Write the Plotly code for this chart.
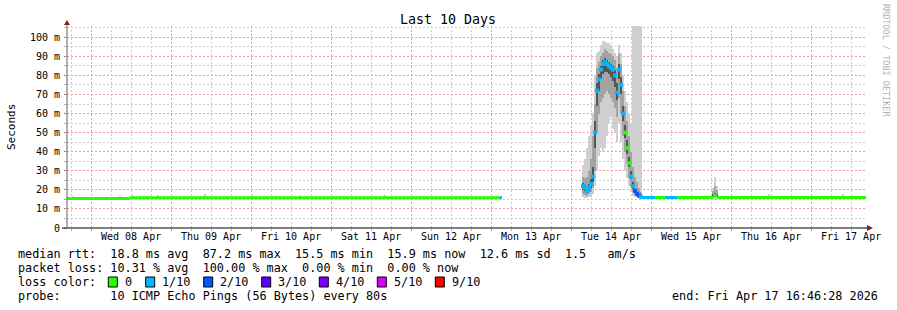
import plotly.graph_objects as go

FONT = "DejaVu Sans Mono"
T_START = "2026-04-07 16:46:28"
T_END = "2026-04-17 16:46:28"

# ---------------- data ----------------
# median line segments (time span, median in ms, loss out of 10)
seg_start = ["2026-04-07 16:46:28", "2026-04-08 11:40", "2026-04-09 08:40", "2026-04-13 02:40",
             "2026-04-14 21:34", "2026-04-15 01:10", "2026-04-15 04:10", "2026-04-15 07:46",
             "2026-04-15 18:34", "2026-04-15 19:46"]
seg_end = ["2026-04-08 11:40", "2026-04-09 08:40", "2026-04-13 02:40", "2026-04-13 03:16",
           "2026-04-15 01:10", "2026-04-15 04:10", "2026-04-15 07:46", "2026-04-15 18:34",
           "2026-04-15 19:46", "2026-04-17 16:28"]
seg_value = [15.5, 15.8, 15.9, 15.9, 16.0, 16.0, 16.0, 16.0, 17.3, 16.0]
seg_loss = [0, 0, 0, 1, 1, 0, 1, 0, 0, 0]

# smoke columns (36 min steps) during the Tue 14 Apr episode + small bump on Wed 15
smoke_time = ["2026-04-14 03:34", "2026-04-14 04:10", "2026-04-14 04:46", "2026-04-14 05:22",
              "2026-04-14 05:58", "2026-04-14 06:34", "2026-04-14 07:10", "2026-04-14 07:46",
              "2026-04-14 08:22", "2026-04-14 08:58", "2026-04-14 09:34", "2026-04-14 10:10",
              "2026-04-14 10:46", "2026-04-14 11:22", "2026-04-14 11:58", "2026-04-14 12:34",
              "2026-04-14 13:10", "2026-04-14 13:46", "2026-04-14 14:22", "2026-04-14 14:58",
              "2026-04-14 15:34", "2026-04-14 16:10", "2026-04-14 16:46", "2026-04-14 17:22",
              "2026-04-14 17:58", "2026-04-14 18:34", "2026-04-14 19:10", "2026-04-14 19:46",
              "2026-04-14 20:22", "2026-04-14 20:58",
              "2026-04-15 18:34", "2026-04-15 19:10", "2026-04-15 19:46"]
smoke_median = [22, 21, 19.5, 21, 23, 27, 50, 72, 78, 83, 86, 87, 86, 85, 84, 83, 80, 71, 83, 75,
                60, 50, 42, 34, 27, 22, 19.5, 18, 17, 16.3,
                17.0, 17.5, 17.3]
smoke_min = [16, 15.5, 15.5, 16, 16.5, 18, 22, 30, 38, 42, 40, 42, 48, 55, 58, 52, 50, 45, 55, 45,
             36, 30, 26, 22, 19, 17, 16.5, 16, 15.8, 15.7,
             15.8, 15.8, 15.8]
smoke_lo = [18, 17.5, 17, 18, 19, 21, 30, 50, 60, 66, 68, 70, 72, 70, 68, 66, 63, 58, 68, 60,
            48, 40, 34, 27, 22, 19, 17.5, 16.5, 16.2, 15.9,
            16.2, 16.4, 16.2]
smoke_lo2 = [20, 19.5, 18.5, 19.5, 21, 24, 42, 64, 72, 78, 81, 82, 82, 81, 79, 77, 74, 67, 78, 70,
             56, 47, 39, 32, 25.5, 20.5, 18.5, 17.2, 16.6, 16.1,
             16.5, 16.8, 16.6]
smoke_hi2 = [23.5, 22.5, 21, 23, 25.5, 32, 56, 76, 81, 85, 88, 89, 88, 87, 86, 85, 83, 76, 86, 79,
             64, 54, 46, 37, 30, 24, 20.5, 19, 17.8, 16.8,
             17.6, 18.5, 18.0]
smoke_hi = [27, 26, 27, 30, 36, 48, 65, 84, 87, 90, 92, 94, 93, 92, 91, 90, 88, 84, 91, 86,
            72, 64, 56, 48, 40, 32, 27, 24, 21, 19,
            19.5, 22, 20]
smoke_max = [33, 36, 42, 48, 54, 60, 80, 92, 93, 96, 98, 98, 97, 97, 96, 94, 92, 90, 96, 92,
             80, 72, 66, 60, 55, 110, 110, 110, 110, 110,
             21, 27, 22]
smoke_loss = [1, 1, 1, 1, 1, 1, 1, 1, 1, 1, 1, 1, 1, 1, 1, 1, 1, 1, 1, 1,
              1, 0, 0, 0, 1, 1, 2, 2, 2, 1,
              0, 0, 0]

# small smoke bumps above the flat baseline
bump_time = ["2026-04-07 18:34", "2026-04-08 08:40", "2026-04-08 12:16", "2026-04-08 17:04",
             "2026-04-08 20:04", "2026-04-09 05:40", "2026-04-09 10:10", "2026-04-09 17:04",
             "2026-04-10 00:16", "2026-04-10 07:10", "2026-04-10 14:40", "2026-04-11 02:40",
             "2026-04-11 16:10", "2026-04-12 02:40", "2026-04-12 14:40", "2026-04-12 20:40",
             "2026-04-15 14:00", "2026-04-16 08:04", "2026-04-16 11:22", "2026-04-16 14:04",
             "2026-04-16 18:16", "2026-04-17 09:34", "2026-04-17 14:58"]
bump_top = [17.0, 16.9, 17.6, 17.0, 17.4, 17.0, 17.8, 17.0,
            17.1, 16.9, 17.2, 17.0, 17.1, 17.0, 16.9, 17.0,
            16.9, 17.0, 17.6, 17.0, 17.0, 17.6, 17.0]
bump_base = [15.9] * len(bump_top)

loss_levels = ["0", "1/10", "2/10", "3/10", "4/10", "5/10", "9/10"]
loss_colors = ["#26ff00", "#00b8ff", "#0059ff", "#5e00ff", "#7e00ff", "#dd00ff", "#ff0000"]

y_tickvals = [0, 10, 20, 30, 40, 50, 60, 70, 80, 90, 100]
y_ticktext = ["0", "10 m", "20 m", "30 m", "40 m", "50 m", "60 m", "70 m", "80 m", "90 m", "100 m"]
y_minor_vals = [5, 15, 25, 35, 45, 55, 65, 75, 85, 95, 105]
x_days = ["2026-04-07", "2026-04-08", "2026-04-09", "2026-04-10", "2026-04-11",
          "2026-04-12", "2026-04-13", "2026-04-14", "2026-04-15", "2026-04-16", "2026-04-17"]
x_minor_hours = ["06:00", "12:00", "18:00"]
x_minor_vals = [d + " " + h for d in x_days for h in x_minor_hours]

# ---------------- figure ----------------
STEP_MS = 36 * 60 * 1000
fig = go.Figure()

def add_band(lo, hi, color, times, width):
    fig.add_trace(go.Bar(x=times, base=lo, y=[h - l for l, h in zip(lo, hi)],
                         width=width, marker=dict(color=color, line=dict(width=0)),
                         hoverinfo="skip", showlegend=False))

add_band(bump_base, bump_top, "#cdcdcd", bump_time, STEP_MS * 0.6)
add_band(smoke_min, smoke_max, "#cfcfcf", smoke_time, STEP_MS)
add_band(smoke_lo, smoke_hi, "#a3a3a3", smoke_time, STEP_MS)
add_band(smoke_lo2, smoke_hi2, "#555555", smoke_time, STEP_MS)

for s, e, v, l in zip(seg_start, seg_end, seg_value, seg_loss):
    fig.add_trace(go.Scatter(x=[s, e], y=[v, v], mode="lines",
                             line=dict(color=loss_colors[l], width=3),
                             hoverinfo="skip", showlegend=False))

fig.add_trace(go.Scatter(x=smoke_time[:30], y=smoke_median[:30], mode="markers",
                         marker=dict(symbol="square", size=4,
                                     color=[loss_colors[l] for l in smoke_loss[:30]],
                                     line=dict(width=0)),
                         hoverinfo="skip", showlegend=False))

MAJ = "#f29a9a"
MIN = "#cccccc"
DASH = "2px,2px"

fig.update_xaxes(type="date", range=[T_START, T_END],
                 tick0="2026-04-08", dtick=86400000, ticklabelmode="period",
                 tickformat="%a %d %b", showgrid=True, gridcolor=MAJ, griddash=DASH, gridwidth=1,
                 ticks="outside", ticklen=2, tickcolor="#e06060", ticklabelstandoff=-3,
                 minor=dict(tickmode="array", tickvals=x_minor_vals, showgrid=True, gridcolor=MIN,
                            griddash=DASH, gridwidth=1, ticks="outside", ticklen=2, tickcolor="#b0b0b0"),
                 showline=False, zeroline=False,
                 tickfont=dict(family=FONT, size=10, color="#000"))
fig.update_yaxes(range=[0, 105.9], tickvals=y_tickvals, ticktext=y_ticktext,
                 showgrid=True, gridcolor=MAJ, griddash=DASH, gridwidth=1,
                 ticks="outside", ticklen=2, tickcolor="#e06060", ticklabelstandoff=2,
                 minor=dict(tickmode="array", tickvals=y_minor_vals, showgrid=True, gridcolor=MIN,
                            griddash=DASH, gridwidth=1, ticks="outside", ticklen=2, tickcolor="#b0b0b0"),
                 showline=False, zeroline=False,
                 tickfont=dict(family=FONT, size=10, color="#000"))

L, R, T, B = 67, 30, 26, 82
W, H = 897, 310
PW, PH = W - L - R, H - T - B

def px(x):
    return (x - L) / PW

def py(y):
    return (H - B - y) / PH

def nb(s):
    return s.replace(" ", "\u00a0")

shapes = []
# axis lines
shapes.append(dict(type="line", xref="paper", yref="paper", x0=px(62), x1=px(867), y0=0, y1=0,
                   line=dict(color="#000", width=1)))
shapes.append(dict(type="line", xref="paper", yref="paper", x0=0, x1=0, y0=0, y1=py(24),
                   line=dict(color="#606060", width=1)))
# arrows
shapes.append(dict(type="path", xref="paper", yref="paper", xsizemode="pixel", ysizemode="pixel",
                   xanchor=0, yanchor=py(25), path="M-3,0 L3,0 L0,5 Z",
                   fillcolor="#8b1a1a", line=dict(width=0)))
shapes.append(dict(type="path", xref="paper", yref="paper", xsizemode="pixel", ysizemode="pixel",
                   xanchor=px(867), yanchor=0, path="M0,-3 L0,3 L6,0 Z",
                   fillcolor="#8b1a1a", line=dict(width=0)))

annotations = []
def text(x, y, s, size=11.8, color="#000", xanchor="left", angle=0):
    annotations.append(dict(xref="paper", yref="paper", x=px(x), y=py(y), text=nb(s),
                            showarrow=False, xanchor=xanchor, yanchor="middle", textangle=angle,
                            font=dict(family=FONT, size=size, color=color)))

text(448, 20, "Last 10 Days", size=13.3, xanchor="center")
text(11, 127, "Seconds", size=11, xanchor="center", angle=-90)
text(886, 60, "RRDTOOL / TOBI OETIKER", size=8.5, color="#b4b4b4", xanchor="center", angle=90)

text(16, 254, "median rtt:  18.8 ms avg  87.2 ms max  15.5 ms min  15.9 ms now  12.6 ms sd  1.5   am/s")
text(16, 268, "packet loss: 10.31 % avg  100.00 % max  0.00 % min  0.00 % now")
text(16, 282, "loss color:")
text(16, 296, "probe:       10 ICMP Echo Pings (56 Bytes) every 80s")
text(880, 296, "end: Fri Apr 17 16:46:28 2026", xanchor="right")

box_x = [108.3, 145.7, 203.7, 261.7, 319.3, 377.3, 435.3]
for bx, lab, col in zip(box_x, loss_levels, loss_colors):
    shapes.append(dict(type="rect", xref="paper", yref="paper", x0=px(bx), x1=px(bx + 9),
                       y0=py(287), y1=py(277), fillcolor=col, line=dict(color="#000", width=1)))
    text(bx + 14.5, 282, lab)

fig.update_layout(width=W, height=H, margin=dict(l=L, r=R, t=T, b=B),
                  paper_bgcolor="white", plot_bgcolor="white", barmode="overlay", bargap=0,
                  showlegend=False, shapes=shapes, annotations=annotations,
                  font=dict(family=FONT, size=11.8, color="#000"))

fig.write_html("out.html")
